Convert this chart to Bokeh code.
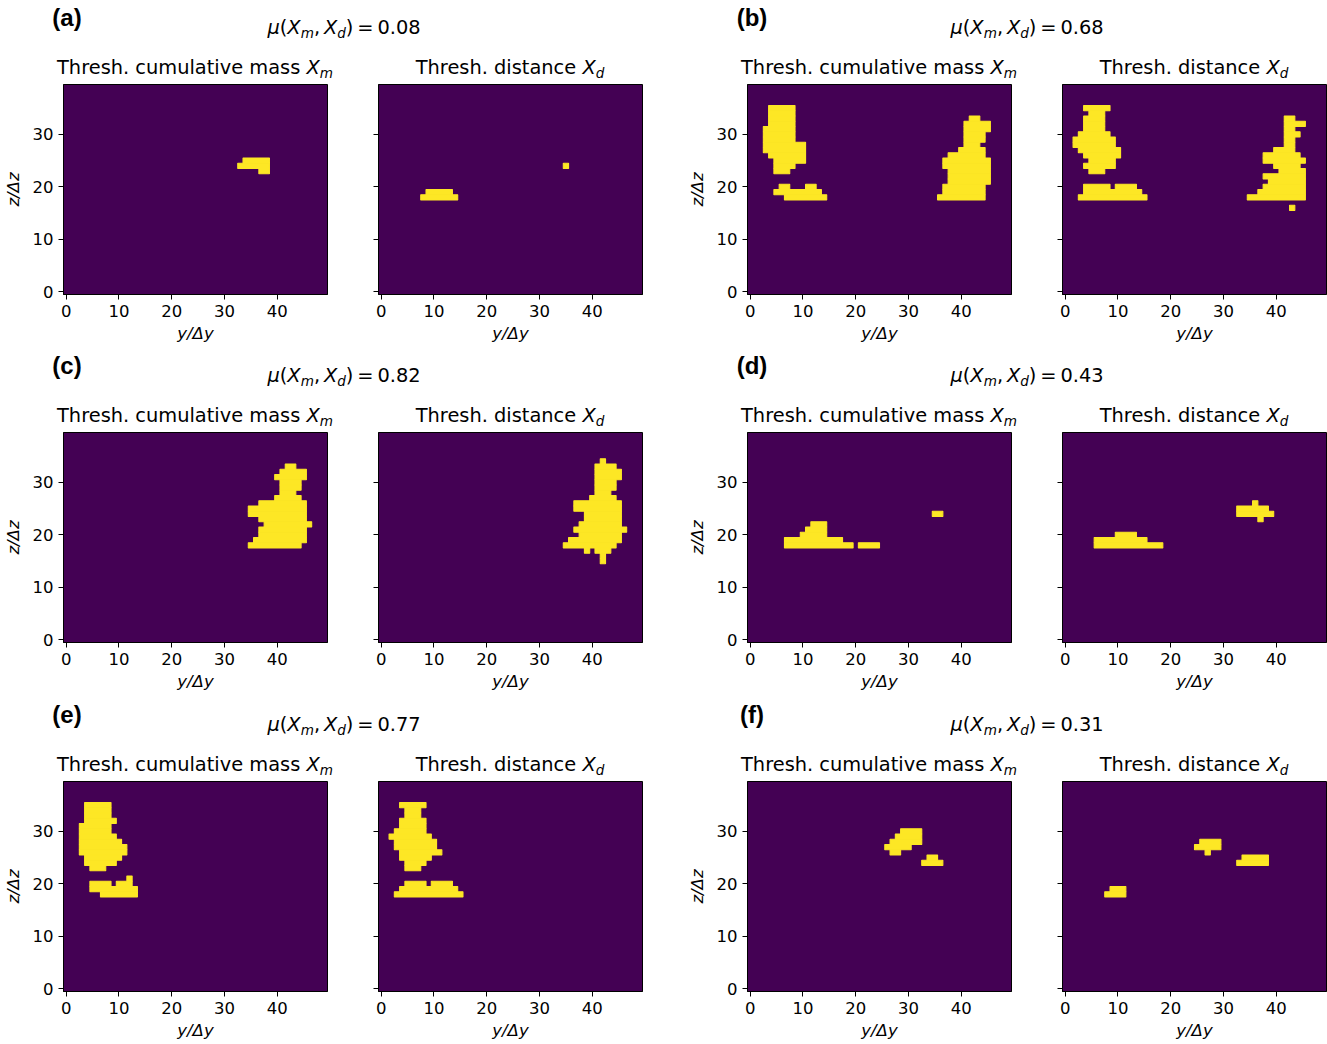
from bokeh.plotting import figure
from bokeh.layouts import column, row
from bokeh.models import Div, FixedTicker
from bokeh.embed import file_html
from bokeh.resources import INLINE

# ---------------- data ----------------
PANEL_LABELS = ["(a)", "(b)", "(c)", "(d)", "(e)", "(f)"]
MU_VALUES = ["0.08", "0.68", "0.82", "0.43", "0.77", "0.31"]
X_TICKS = [0, 10, 20, 30, 40]
Y_TICKS = [0, 10, 20, 30]
N_Y, N_Z = 50, 40  # grid size (columns, rows)

# thresholded masks, stored as runs: (row z, first column y, last column y)
A_MASS = [(25, 34, 38), (24, 33, 38), (23, 37, 38)]
A_DIST = [(19, 9, 13), (18, 8, 14), (24, 35, 35)]

B_MASS = [(35, 4, 8), (34, 4, 8), (33, 4, 8), (32, 4, 8), (31, 3, 8), (30, 3, 8), (29, 3, 8),
          (28, 3, 10), (27, 3, 10), (26, 4, 10), (25, 5, 10), (24, 5, 8), (23, 5, 7),
          (20, 6, 7), (20, 11, 12), (19, 5, 13), (18, 7, 14),
          (33, 42, 43), (32, 41, 45), (31, 41, 45), (30, 41, 44), (29, 41, 44), (28, 41, 43),
          (27, 40, 44), (26, 38, 44), (25, 37, 45), (24, 37, 45), (23, 38, 45), (22, 38, 45),
          (21, 38, 45), (20, 37, 44), (19, 37, 44), (18, 36, 44)]
B_DIST = [(35, 4, 8), (34, 5, 7), (33, 4, 7), (32, 4, 7), (31, 4, 7), (30, 3, 8), (29, 2, 9),
          (28, 2, 9), (27, 3, 10), (26, 4, 10), (25, 5, 9), (24, 4, 9), (23, 5, 7),
          (20, 4, 8), (20, 10, 13), (19, 4, 14), (18, 3, 15),
          (33, 42, 43), (32, 42, 45), (31, 42, 43), (30, 42, 44), (29, 42, 43), (28, 42, 43),
          (27, 40, 43), (26, 38, 44), (25, 38, 45), (24, 40, 44), (23, 41, 45), (22, 38, 45),
          (21, 39, 45), (20, 38, 45), (19, 37, 45), (18, 35, 45), (16, 43, 43)]

C_MASS = [(33, 42, 43), (32, 41, 45), (31, 40, 45), (30, 41, 44), (29, 41, 44), (28, 41, 43),
          (27, 40, 44), (26, 37, 45), (25, 35, 45), (24, 35, 45), (23, 37, 45), (22, 38, 46),
          (21, 37, 45), (20, 37, 45), (19, 36, 45), (18, 35, 44)]
C_DIST = [(34, 42, 42), (33, 41, 44), (32, 41, 45), (31, 41, 45), (30, 41, 44), (29, 41, 44),
          (28, 41, 43), (27, 40, 44), (26, 37, 45), (25, 37, 45), (24, 39, 45), (23, 39, 45),
          (22, 38, 45), (21, 37, 46), (20, 38, 45), (19, 36, 45), (18, 35, 44),
          (17, 39, 39), (17, 41, 43), (16, 42, 42), (15, 42, 42)]

D_MASS = [(22, 12, 14), (21, 11, 14), (20, 10, 14), (19, 7, 17), (18, 7, 19), (18, 21, 24),
          (24, 35, 36)]
D_DIST = [(20, 10, 13), (19, 6, 15), (18, 6, 18), (26, 36, 36), (25, 33, 38), (24, 33, 39),
          (23, 37, 37)]

E_MASS = [(35, 4, 8), (34, 4, 8), (33, 4, 8), (32, 4, 9), (31, 3, 8), (30, 3, 8), (29, 3, 9),
          (28, 3, 10), (27, 3, 11), (26, 3, 11), (25, 4, 10), (24, 4, 9), (23, 5, 7),
          (21, 12, 12), (20, 5, 8), (20, 10, 12), (19, 5, 13), (18, 7, 13)]
E_DIST = [(35, 4, 8), (34, 5, 7), (33, 5, 7), (32, 4, 8), (31, 4, 8), (30, 3, 8), (29, 2, 9),
          (28, 3, 10), (27, 3, 10), (26, 4, 11), (25, 4, 9), (24, 5, 8), (23, 5, 7),
          (20, 5, 8), (20, 10, 13), (19, 4, 14), (18, 3, 15)]

F_MASS = [(30, 29, 32), (29, 28, 32), (28, 27, 32), (27, 26, 30), (26, 27, 28), (25, 34, 35),
          (24, 33, 36)]
F_DIST = [(28, 26, 29), (27, 25, 29), (26, 27, 27), (25, 34, 38), (24, 33, 38), (19, 9, 11),
          (18, 8, 11)]

# ---------------- style ----------------
PURPLE = "#440154"
YELLOW = "#fde725"
FONT = "DejaVu Sans"
TICK_SIZE = "16.5px"
TITLE_SIZE = 19.4
FRAME_W, FRAME_H = 264, 210
TOP_B, BOT_B = 5, 52


def make_panel(runs, left_b, right_b, labelled):
    p = figure(width=left_b + FRAME_W + right_b, height=TOP_B + FRAME_H + BOT_B,
               x_range=(-0.5, N_Y - 0.5), y_range=(-0.5, N_Z - 0.5),
               output_backend="svg", toolbar_location=None,
               min_border_left=left_b, min_border_right=right_b,
               min_border_top=TOP_B, min_border_bottom=BOT_B)
    p.background_fill_color = PURPLE
    p.border_fill_color = "white"
    p.outline_line_color = "black"
    p.outline_line_width = 1
    p.grid.visible = False
    p.quad(left=[r[1] - 0.5 for r in runs], right=[r[2] + 0.5 for r in runs],
           bottom=[r[0] - 0.5 for r in runs], top=[r[0] + 0.5 for r in runs],
           fill_color=YELLOW, line_color=YELLOW, line_width=1.1)
    p.xaxis.ticker = FixedTicker(ticks=X_TICKS)
    p.yaxis.ticker = FixedTicker(ticks=Y_TICKS)
    for ax in (p.xaxis[0], p.yaxis[0]):
        ax.major_tick_out = 5
        ax.major_tick_in = 0
        ax.minor_tick_line_color = None
        ax.major_tick_line_color = "black"
        ax.axis_line_color = "black"
        ax.major_label_text_font = FONT
        ax.major_label_text_font_size = TICK_SIZE
        ax.major_label_text_color = "black"
        ax.major_label_standoff = 5
        ax.axis_label_text_font = FONT
        ax.axis_label_text_font_size = TICK_SIZE
        ax.axis_label_text_font_style = "italic"
        ax.axis_label_text_color = "black"
    p.xaxis.axis_label = "y/Δy"
    p.xaxis.axis_label_standoff = 4
    if labelled:
        p.yaxis.axis_label = "z/Δz"
        p.yaxis.axis_label_standoff = 7
    else:
        # shared y axis: ticks only, labels not painted
        p.yaxis.major_label_text_color = None
    return p


def span(x, y, inner, extra=""):
    return (f'<div style="position:absolute;left:{x}px;top:{y}px;transform:translate(-50%,-50%);'
            f'white-space:nowrap;line-height:1;{extra}">{inner}</div>')


def sub(base, s):
    return (f'<i>{base}</i><i style="font-size:0.7em;position:relative;top:0.28em">{s}</i>')


def header(h, pair_idx, dy):
    items = []
    # (label x, mu-title x, frame centres)
    pairs = [(67, 344, 195, 510), (752, 1027, 879, 1194)]
    for k, (lx, mx, c1, c2) in enumerate(pairs):
        i = pair_idx + k
        items.append(span(lx, 18 + dy, PANEL_LABELS[i],
                          "font-family:'Liberation Sans';font-weight:bold;font-size:24px"))
        mu = (f'<i>μ</i>({sub("X", "m")},&#8201;{sub("X", "d")})&#8201;=&#8201;{MU_VALUES[i]}')
        items.append(span(mx, 28 + dy, mu, f"font-size:{TITLE_SIZE}px"))
        items.append(span(c1, 68 + dy, "Thresh. cumulative mass " + sub("X", "m"),
                          f"font-size:{TITLE_SIZE}px"))
        items.append(span(c2, 68 + dy, "Thresh. distance " + sub("X", "d"),
                          f"font-size:{TITLE_SIZE}px"))
    html = (f'<div style="position:relative;width:1327px;height:{h}px;'
            f'font-family:\'{FONT}\';color:black">' + "".join(items) + "</div>")
    return Div(text=html, width=1327, height=h, margin=(0, 0, 0, 0))


def panel_row(mass_l, dist_l, mass_r, dist_r):
    return row(make_panel(mass_l, 63, 24, True),
               make_panel(dist_l, 27, 24, False),
               make_panel(mass_r, 81, 24, True),
               make_panel(dist_r, 27, 1, False), spacing=0)


layout = column(
    header(79, 0, 0),
    panel_row(A_MASS, A_DIST, B_MASS, B_DIST),
    header(81, 2, 2),
    panel_row(C_MASS, C_DIST, D_MASS, D_DIST),
    header(82, 4, 3),
    panel_row(E_MASS, E_DIST, F_MASS, F_DIST),
    spacing=0,
)

html = file_html(layout, INLINE, title="thresholded masks")
open("out.html", "w").write(html)
